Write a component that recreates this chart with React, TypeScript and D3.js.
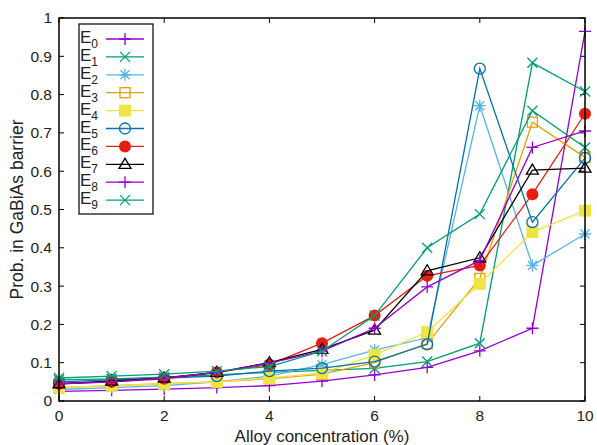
import React from 'react';
import * as d3 from 'd3';

// alloy concentration (%)
const conc = [0, 1, 2, 3, 4, 5, 6, 7, 8, 9, 10];

const seriesNames = ['0', '1', '2', '3', '4', '5', '6', '7', '8', '9'];
const seriesColors = ['#9400d3', '#009e73', '#56b4e9', '#e69f00', '#f0e442', '#0072b2', '#e51e10', '#000000', '#9400d3', '#009e73'];
const seriesMarks = ['plus', 'cross', 'star', 'square', 'fsquare', 'circle', 'fcircle', 'triangle', 'plus', 'cross'];

const e0 = [0.025, 0.028, 0.031, 0.035, 0.040, 0.052, 0.068, 0.088, 0.131, 0.190, 0.965];
const e1 = [0.055, 0.058, 0.062, 0.068, 0.075, 0.080, 0.085, 0.103, 0.151, 0.883, 0.808];
const e2 = [0.030, 0.035, 0.040, 0.050, 0.065, 0.095, 0.133, 0.165, 0.771, 0.354, 0.436];
const e3 = [0.035, 0.040, 0.045, 0.050, 0.058, 0.070, 0.100, 0.150, 0.320, 0.728, 0.636];
const e4 = [0.035, 0.040, 0.045, 0.050, 0.060, 0.073, 0.120, 0.180, 0.306, 0.441, 0.497];
const e5 = [0.050, 0.055, 0.060, 0.065, 0.078, 0.086, 0.103, 0.148, 0.868, 0.467, 0.634];
const e6 = [0.045, 0.050, 0.058, 0.075, 0.095, 0.151, 0.223, 0.327, 0.354, 0.540, 0.750];
const e7 = [0.045, 0.052, 0.060, 0.075, 0.100, 0.135, 0.185, 0.340, 0.374, 0.603, 0.608];
const e8 = [0.045, 0.050, 0.060, 0.075, 0.099, 0.130, 0.190, 0.298, 0.367, 0.662, 0.705];
const e9 = [0.060, 0.065, 0.070, 0.078, 0.090, 0.130, 0.223, 0.400, 0.488, 0.758, 0.662];
const allSeries = [e0, e1, e2, e3, e4, e5, e6, e7, e8, e9];

const xTicks = [0, 2, 4, 6, 8, 10];
const yTicks = [0, 0.1, 0.2, 0.3, 0.4, 0.5, 0.6, 0.7, 0.8, 0.9, 1];

const W = 597, H = 445;
const margin = { top: 18, right: 12, bottom: 44, left: 59 };
const font = '"Liberation Sans", Arial, sans-serif';

function Marker({ kind, x, y, color }: { kind: string; x: number; y: number; color: string }) {
  const s = 6;
  const sw = 1.3;
  switch (kind) {
    case 'plus':
      return <path d={`M${x - s},${y}H${x + s}M${x},${y - s}V${y + s}`} stroke={color} strokeWidth={sw} fill="none" />;
    case 'cross':
      return <path d={`M${x - 5},${y - 5}L${x + 5},${y + 5}M${x - 5},${y + 5}L${x + 5},${y - 5}`} stroke={color} strokeWidth={sw} fill="none" />;
    case 'star':
      return <path d={`M${x - s},${y}H${x + s}M${x},${y - s}V${y + s}M${x - 4.5},${y - 4.5}L${x + 4.5},${y + 4.5}M${x - 4.5},${y + 4.5}L${x + 4.5},${y - 4.5}`} stroke={color} strokeWidth={sw} fill="none" />;
    case 'square':
      return <rect x={x - 5} y={y - 5} width={10} height={10} stroke={color} strokeWidth={sw} fill="none" />;
    case 'fsquare':
      return <rect x={x - 6} y={y - 6} width={12} height={12} fill={color} />;
    case 'circle':
      return <circle cx={x} cy={y} r={5.5} stroke={color} strokeWidth={sw} fill="none" />;
    case 'fcircle':
      return <circle cx={x} cy={y} r={6} fill={color} />;
    case 'triangle':
      return <path d={`M${x},${y - 6}L${x + 6},${y + 4}L${x - 6},${y + 4}Z`} stroke={color} strokeWidth={sw} fill="none" />;
    default:
      return null;
  }
}

export default function App() {
  const x = d3.scaleLinear().domain([0, 10]).range([margin.left, W - margin.right]);
  const y = d3.scaleLinear().domain([0, 1]).range([H - margin.bottom, margin.top]);
  const line = d3.line<number>().x((_, i) => x(conc[i])).y(d => y(d));

  const x0 = x(0), x1 = x(10), y0 = y(0), y1 = y(1);
  const tick = 5;

  // legend
  const legX = 79, legY = 24, legW = 74, legH = 190;
  const rowH = 17.9;

  return (
    <div style={{ position: 'absolute', left: 0, top: 0 }}>
      <svg width={W} height={H} style={{ display: 'block', background: '#fff' }}>
        {/* ticks */}
        {yTicks.map(t => (
          <g key={'y' + t}>
            <line x1={x0} x2={x0 + tick} y1={y(t)} y2={y(t)} stroke="#000" />
            <line x1={x1} x2={x1 - tick} y1={y(t)} y2={y(t)} stroke="#000" />
            <text x={x0 - 7} y={y(t)} dy="0.35em" textAnchor="end" fontFamily={font} fontSize={15.5} fill="#222">{t}</text>
          </g>
        ))}
        {xTicks.map(t => (
          <g key={'x' + t}>
            <line x1={x(t)} x2={x(t)} y1={y0} y2={y0 - tick} stroke="#000" />
            <line x1={x(t)} x2={x(t)} y1={y1} y2={y1 + tick} stroke="#000" />
            <text x={x(t)} y={y0 + 20} textAnchor="middle" fontFamily={font} fontSize={15.5} fill="#222">{t}</text>
          </g>
        ))}

        {/* series */}
        {allSeries.map((vals, si) => (
          <g key={'s' + si}>
            <path d={line(vals) || ''} fill="none" stroke={seriesColors[si]} strokeWidth={1.3} />
            {vals.map((v, i) => (
              <Marker key={i} kind={seriesMarks[si]} x={x(conc[i])} y={y(v)} color={seriesColors[si]} />
            ))}
          </g>
        ))}

        {/* frame */}
        <rect x={x0} y={y1} width={x1 - x0} height={y0 - y1} fill="none" stroke="#000" strokeWidth={1.5} />

        {/* legend */}
        <rect x={legX} y={legY} width={legW} height={legH} fill="#fff" stroke="#000" strokeWidth={1.2} />
        {seriesNames.map((n, i) => {
          const cy = legY + 15 + i * rowH;
          return (
            <g key={'l' + i}>
              <text x={98} y={cy + 4} textAnchor="end" fontFamily={font} fontSize={17} fill="#222">
                E<tspan fontSize={12} dy={5}>{n}</tspan>
              </text>
              <line x1={106} x2={144} y1={cy} y2={cy} stroke={seriesColors[i]} strokeWidth={1.3} />
              <Marker kind={seriesMarks[i]} x={125} y={cy} color={seriesColors[i]} />
            </g>
          );
        })}

        {/* axis titles */}
        <text x={(x0 + x1) / 2} y={H - 3} textAnchor="middle" fontFamily={font} fontSize={17} fill="#222">Alloy concentration (%)</text>
        <text transform={`translate(23,${(y0 + y1) / 2}) rotate(-90)`} textAnchor="middle" fontFamily={font} fontSize={17.5} fill="#222">Prob. in GaBiAs barrier</text>
      </svg>
    </div>
  );
}
